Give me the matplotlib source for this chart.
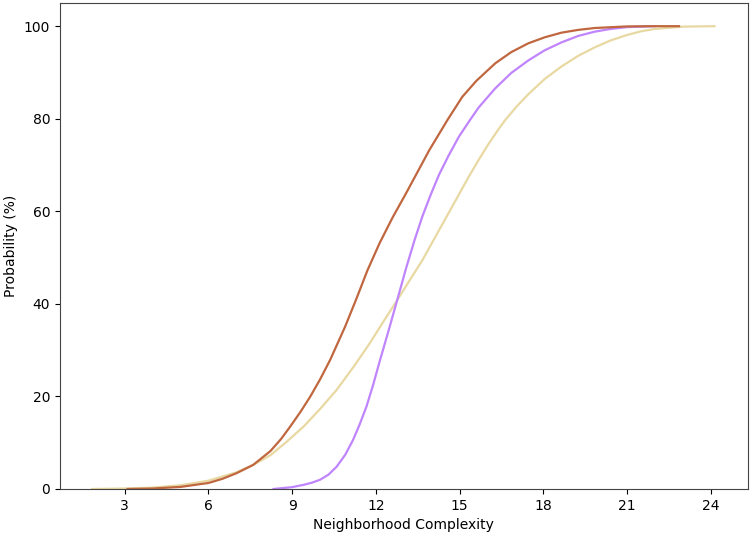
import matplotlib
matplotlib.use("Agg")
import matplotlib.pyplot as plt

# Data (x = Neighborhood Complexity, y = cumulative probability %)
brown_x = [3.1, 4, 5, 6, 6.5, 7, 7.6, 8.22, 8.6, 8.93, 9.3, 9.64, 10.0, 10.36, 10.89, 11.28, 11.7, 12.13, 12.6, 13.08, 13.5, 13.91, 14.25, 14.56, 15.09, 15.6, 16.28, 16.85, 17.46, 18.05, 18.65, 19.25, 19.83, 21, 22, 22.86]
brown_y = [0, 0.1, 0.45, 1.3, 2.2, 3.4, 5.2, 8.2, 10.8, 13.5, 16.7, 19.9, 23.7, 27.9, 35, 40.8, 47.3, 53.1, 58.7, 63.9, 68.6, 73.2, 76.6, 79.7, 84.7, 88.2, 92.0, 94.4, 96.3, 97.6, 98.6, 99.2, 99.6, 99.95, 100, 100]

purple_x = [8.33, 8.58, 9.0, 9.41, 9.7, 10, 10.3, 10.59, 10.9, 11.18, 11.42, 11.66, 11.9, 12.13, 12.49, 12.78, 13.08, 13.38, 13.67, 13.97, 14.26, 14.6, 14.98, 15.39, 15.69, 16.28, 16.85, 17.46, 18.05, 18.65, 19.25, 19.83, 20.4, 21, 22]
purple_y = [0, 0.15, 0.4, 0.9, 1.35, 2.0, 3.1, 4.8, 7.4, 10.6, 14.0, 17.8, 22.5, 27.5, 35.0, 41.2, 47.7, 53.7, 59.0, 63.7, 67.9, 72.0, 76.2, 79.9, 82.5, 86.6, 89.9, 92.6, 94.8, 96.5, 97.9, 98.8, 99.4, 99.8, 100]

yellow_x = [1.83, 3, 4, 5, 6, 7, 7.6, 8.22, 8.8, 9.41, 10.0, 10.59, 11.2, 11.78, 12.25, 12.73, 13.2, 13.67, 14.25, 14.86, 15.3, 15.69, 16.05, 16.4, 16.63, 17.05, 17.46, 18.05, 18.65, 19.25, 19.83, 20.4, 21, 21.5, 22, 23, 24.13]
yellow_y = [0, 0.1, 0.3, 0.8, 1.8, 3.6, 5.2, 7.3, 10.2, 13.5, 17.3, 21.4, 26.4, 31.5, 36.0, 40.5, 45.0, 49.5, 55.8, 62.4, 67.2, 71.2, 74.7, 77.8, 79.7, 82.7, 85.3, 88.6, 91.3, 93.6, 95.4, 96.9, 98.1, 98.9, 99.4, 99.9, 100]

xticks = [3, 6, 9, 12, 15, 18, 21, 24]
yticks = [0, 20, 40, 60, 80, 100]

fig = plt.figure(figsize=(7.54, 5.34), dpi=100)
ax = fig.add_axes([0.0796, 0.0843, 0.912, 0.910])

ax.plot(yellow_x, yellow_y, color="#e8d8a2", lw=1.6)
ax.plot(purple_x, purple_y, color="#c084fc", lw=1.6)
ax.plot(brown_x, brown_y, color="#c0673f", lw=1.6)

ax.set_xlim(0.68, 25.32)
ax.set_ylim(0, 105)
ax.set_xticks(xticks)
ax.set_yticks(yticks)
ax.set_xlabel("Neighborhood Complexity")
ax.set_ylabel("Probability (%)")
for s in ax.spines.values():
    s.set_color("#444444")

fig.savefig("out.png", dpi=100)
